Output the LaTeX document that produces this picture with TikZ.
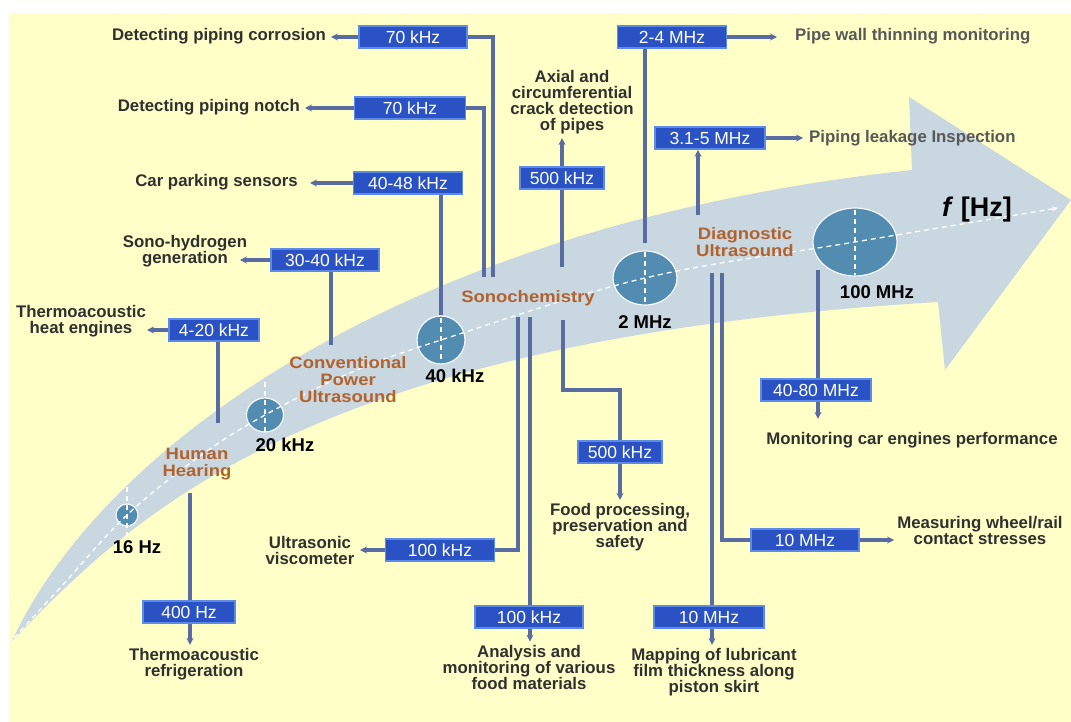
\documentclass[tikz,border=0pt]{standalone}
\usepackage{fontspec}
\setmainfont{Liberation Sans}
\newfontfamily\catfont{Liberation Sans}[FakeStretch=1.12]
\usetikzlibrary{arrows.meta,shapes.geometric}
\definecolor{bgyellow}{RGB}{255,255,200}
\definecolor{band}{RGB}{200,215,224}
\definecolor{disc}{RGB}{82,140,176}
\definecolor{boxblue}{RGB}{42,82,196}
\definecolor{boxedge}{RGB}{92,138,232}
\definecolor{linecol}{RGB}{88,108,162}
\definecolor{apptext}{RGB}{48,48,48}
\definecolor{apptextlight}{RGB}{88,88,88}
\definecolor{catbrown}{RGB}{178,98,46}
\tikzset{
  freq/.style={draw=boxedge, line width=1.6, fill=boxblue, text=white, minimum height=22, inner sep=0, font=\fontsize{17.5}{18}\selectfont},
  app/.style={text=apptext, font=\fontsize{16.8}{16}\selectfont\bfseries, align=center, inner sep=0},
  applight/.style={app, text=apptextlight},
  cat/.style={text=catbrown, font=\catfont\fontsize{16.5}{17}\selectfont\bfseries, align=center, inner sep=0},
  flab/.style={font=\fontsize{18.5}{20}\selectfont\bfseries, inner sep=0},
  disk/.style={ellipse, fill=disc, draw=white!85!band, line width=1.2, inner sep=0},
  conn/.style={draw=linecol, line width=3.2},
  arr/.style={conn, -{Stealth[length=7,width=7]}},
  wdash/.style={draw=white, line width=1.3, dash pattern=on 5 off 4}
}
\begin{document}
\begin{tikzpicture}[x=1pt,y=-1pt]
\useasboundingbox (0,0) rectangle (1071,722);
\fill[white] (0,0) rectangle (1071,722);
\fill[bgyellow] (9,13) rectangle (1071,722);
% curved band with arrow head
\fill[band] (12,641) .. controls (100,450) and (400,225) .. (912,170)
  -- (909,97) -- (1071,200) -- (945,370) -- (938,302)
  .. controls (300,340) and (130,520) .. (12,641) -- cycle;
% discs
\node[disk, minimum width=22, minimum height=22] (c16) at (127,515) {};
\node[disk, minimum width=37, minimum height=34] (c20) at (265,415) {};
\node[disk, minimum width=48, minimum height=48] (c40) at (441,340) {};
\node[disk, minimum width=64, minimum height=54] (c2M) at (645,278) {};
\node[disk, minimum width=84, minimum height=68] (c100) at (855,242) {};
% dashed axis
\draw[wdash, -{Stealth[length=6,width=5]}] plot[smooth, tension=0.6] coordinates {(14,638) (60,588) (127,515) (200,456) (265,415) (350,373) (441,340) (645,278) (855,242) (1058,208)};
\draw[wdash] (127,487) -- (127,540);
\draw[wdash] (265,382) -- (265,434);
\draw[wdash] (441,318) -- (441,363);
\draw[wdash] (645,252) -- (645,304);
\draw[wdash] (855,210) -- (855,275);
% frequency labels on the axis
\node[flab] (l16) at (137,547) {16 Hz};
\node[flab] (l20) at (285,445) {20 kHz};
\node[flab] (l40) at (455,376) {40 kHz};
\node[flab] (l2M) at (645,322) {2 MHz};
\node[flab] (l100) at (877,292) {100 MHz};
\node[font=\fontsize{27}{28}\selectfont\bfseries, inner sep=0] (fhz) at (977,210) {\textit{f} [Hz]};
% categories
\node[cat] (hh) at (197,464) {Human\\Hearing};
\node[cat] (cpu) at (348,380) {Conventional\\Power\\Ultrasound};
\node[cat] (sono) at (528,298) {Sonochemistry};
\node[cat] (diag) at (745,242) {Diagnostic\\Ultrasound};
% frequency boxes
\node[freq, minimum width=108] (b1) at (413,37) {70 kHz};
\node[freq, minimum width=111] (b2) at (410,108) {70 kHz};
\node[freq, minimum width=109] (b3) at (408,183) {40-48 kHz};
\node[freq, minimum width=108] (b4) at (325,260) {30-40 kHz};
\node[freq, minimum width=90] (b5) at (214,330) {4-20 kHz};
\node[freq, minimum width=92] (b6) at (189,612) {400 Hz};
\node[freq, minimum width=109] (b7) at (440,550) {100 kHz};
\node[freq, minimum width=108] (b8) at (529,617) {100 kHz};
\node[freq, minimum width=84] (b9) at (562,178) {500 kHz};
\node[freq, minimum width=84] (b10) at (620,452) {500 kHz};
\node[freq, minimum width=109] (b11) at (672,37) {2-4 MHz};
\node[freq, minimum width=110] (b12) at (710,138) {3.1-5 MHz};
\node[freq, minimum width=110] (b13) at (816,390) {40-80 MHz};
\node[freq, minimum width=108] (b14) at (805,540) {10 MHz};
\node[freq, minimum width=110] (b15) at (709,617) {10 MHz};
% applications
\node[app, anchor=east] (a1) at (326,36) {Detecting piping corrosion};
\node[app, anchor=east] (a2) at (300,107) {Detecting piping notch};
\node[app, anchor=east] (a3) at (298,182) {Car parking sensors};
\node[app] (a4) at (185,251) {Sono-hydrogen\\generation};
\node[app] (a5) at (81,321) {Thermoacoustic\\heat engines};
\node[app] (a6) at (194,664) {Thermoacoustic\\refrigeration};
\node[app] (a7) at (310,550) {Ultrasonic\\viscometer};
\node[app] (a8) at (529,667) {Analysis and\\monitoring of various\\food materials};
\node[app] (a9) at (572,102) {Axial and\\circumferential\\crack detection\\of pipes};
\node[app] (a10) at (620,527) {Food processing,\\preservation and\\safety};
\node[applight, anchor=west] (a11) at (795,36) {Pipe wall thinning monitoring};
\node[applight, anchor=west] (a12) at (809,138) {Piping leakage Inspection};
\node[app] (a13) at (912,440) {Monitoring car engines performance};
\node[app] (a14) at (980,530) {Measuring wheel/rail\\contact stresses};
\node[app] (a15) at (714,672) {Mapping of lubricant\\film thickness along\\piston skirt};
% connector start points
\coordinate (s1) at (493,277);
\coordinate (s2) at (484,277);
\coordinate (s4) at (331,345);
\coordinate (s5) at (218,423);
\coordinate (s6) at (190,493);
\coordinate (s7) at (518,317);
\coordinate (s8) at (530,317);
\coordinate (s9) at (562,267);
\coordinate (s10) at (563,320);
\coordinate (s11) at (645,243);
\coordinate (s12) at (698,215);
\coordinate (s13) at (818,270);
\coordinate (s14) at (722,273);
\coordinate (s15) at (712,273);
\coordinate (t1) at (331,36);
\coordinate (t4) at (240,259);
\coordinate (t5) at (147,330);
\coordinate (t7) at (360,550);
% connectors
\draw[conn] (s1) |- (b1.east);
\draw[arr] (b1.west) -- (t1 |- b1.west);
\draw[conn] (s2) |- (b2.east);
\draw[arr, shorten >=5] (b2.west) -- (b2.west -| a2.east);
\draw[conn] (c40.north) -- (c40.north |- b3.south);
\draw[arr, shorten >=12] (b3.west) -- (b3.west -| a3.east);
\draw[conn] (s4) -- (s4 |- b4.south);
\draw[arr] (b4.west) -- (t4 |- b4.west);
\draw[conn] (s5) -- (s5 |- b5.south);
\draw[arr] (b5.west) -- (t5 |- b5.west);
\draw[conn] (s6) -- (s6 |- b6.north);
\draw[arr, shorten >=3] (s6 |- b6.south) -- (s6 |- a6.north);
\draw[conn] (s7) |- (b7.east);
\draw[arr] (b7.west) -- (t7 |- b7.west);
\draw[conn] (s8) -- (s8 |- b8.north);
\draw[arr, shorten >=3] (s8 |- b8.south) -- (s8 |- a8.north);
\draw[conn] (s9) -- (b9.south);
\draw[arr, shorten >=4] (b9.north) -- (b9.north |- a9.south);
\draw[conn] (s10) -- ++(0,70) -| (b10.north);
\draw[arr, shorten >=3] (b10.south) -- (b10.south |- a10.north);
\draw[conn] (s11) -- (s11 |- b11.south);
\draw[arr, shorten >=18] (b11.east) -- (b11.east -| a11.west);
\draw[arr] (s12) -- (s12 |- b12.south);
\draw[arr, shorten >=6] (b12.east) -- (b12.east -| a12.west);
\draw[conn] (s13) -- (s13 |- b13.north);
\draw[arr, shorten >=13] (s13 |- b13.south) -- (s13 |- a13.north);
\draw[conn] (s14) |- (b14.west);
\draw[arr, shorten >=3] (b14.east) -- (b14.east -| a14.west);
\draw[conn] (s15) -- (s15 |- b15.north);
\draw[arr, shorten >=3] (s15 |- b15.south) -- (s15 |- a15.north);
\end{tikzpicture}
\end{document}
